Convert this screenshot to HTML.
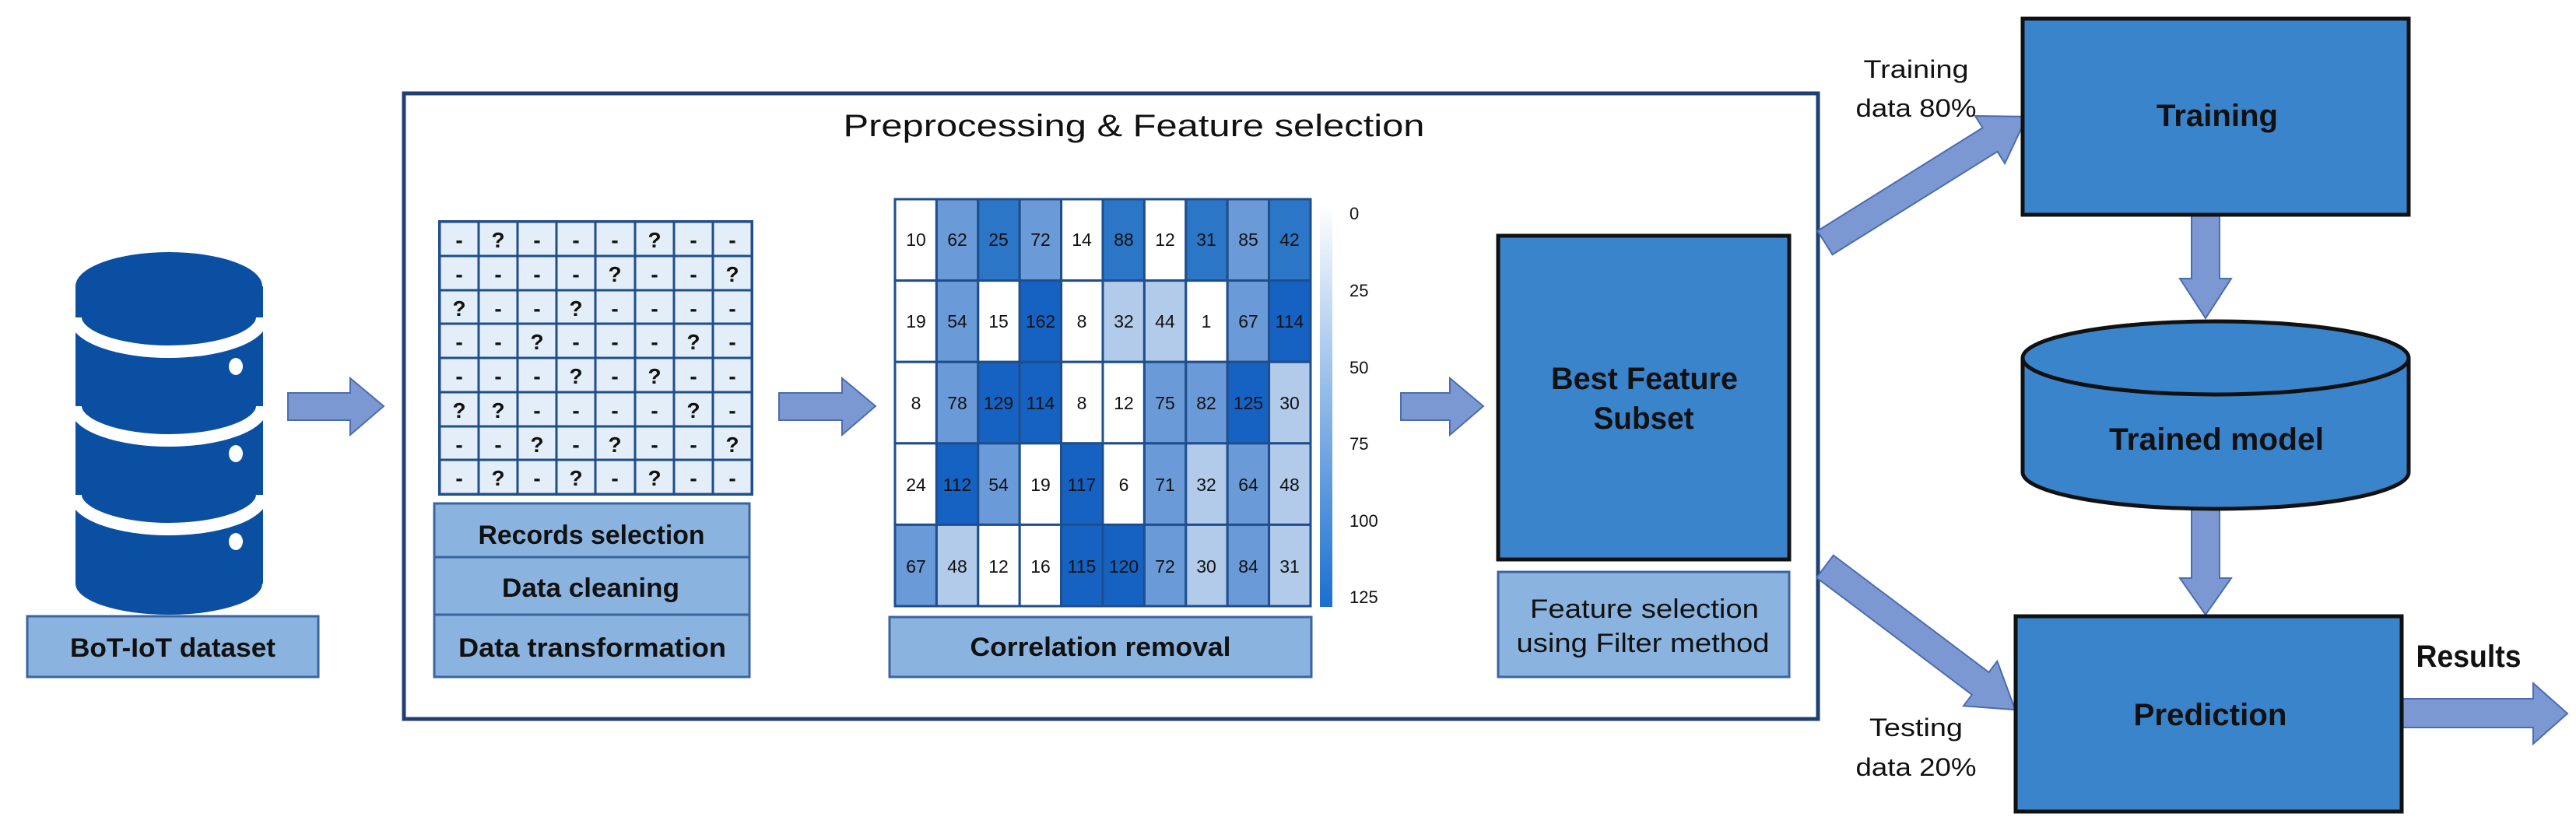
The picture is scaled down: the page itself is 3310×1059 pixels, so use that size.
<!DOCTYPE html>
<html><head><meta charset="utf-8"><style>html,body{margin:0;padding:0;background:#fff}svg{display:block}</style></head>
<body>
<svg width="3310" height="1059" viewBox="0 0 3310 1059" xmlns="http://www.w3.org/2000/svg" font-family="Liberation Sans, sans-serif">
<defs>
<g id="arr"><polygon points="0,-17 -0,-17 0,-17" /></g>
</defs>
<rect width="3310" height="1059" fill="#fff"/>

<!-- Database -->
<g fill="#0b4fa3">
  <rect x="97" y="368" width="241" height="382" rx="0"/>
  <ellipse cx="217" cy="750" rx="120" ry="40"/>
  <ellipse cx="217" cy="368" rx="120" ry="44"/>
</g>
<g fill="none" stroke="#fff" stroke-width="16">
  <path d="M97,408 A120,44 0 0 0 337,408"/>
  <path d="M97,522 A120,44 0 0 0 337,522"/>
  <path d="M97,636 A120,44 0 0 0 337,636"/>
</g>
<g fill="#fff"><ellipse cx="303" cy="471" rx="9" ry="11"/><ellipse cx="303" cy="583" rx="9" ry="11"/><ellipse cx="303" cy="696" rx="9" ry="11"/></g>

<!-- label style -->
<g fill="#8ab4df" stroke="#3a64a0" stroke-width="3">
  <rect x="35" y="792" width="374" height="78"/>
  <rect x="558" y="647" width="405" height="69"/>
  <rect x="558" y="716" width="405" height="74"/>
  <rect x="558" y="790" width="405" height="80"/>
  <rect x="1143" y="793" width="542" height="77"/>
  <rect x="1925" y="735" width="374" height="135"/>
</g>
<g font-weight="bold" font-size="34" fill="#111" text-anchor="middle">
  <text x="222" y="844" textLength="264" lengthAdjust="spacingAndGlyphs">BoT-IoT dataset</text>
  <text x="760" y="699" textLength="291" lengthAdjust="spacingAndGlyphs">Records selection</text>
  <text x="759" y="767" textLength="228" lengthAdjust="spacingAndGlyphs">Data cleaning</text>
  <text x="761" y="844" textLength="344" lengthAdjust="spacingAndGlyphs">Data transformation</text>
  <text x="1414" y="843" textLength="335" lengthAdjust="spacingAndGlyphs">Correlation removal</text>
  <text x="2113" y="794" font-weight="normal" textLength="294" lengthAdjust="spacingAndGlyphs">Feature selection</text>
  <text x="2111" y="838" font-weight="normal" textLength="325" lengthAdjust="spacingAndGlyphs">using Filter method</text>
</g>

<!-- Big box -->
<rect x="519" y="120" width="1817" height="804" fill="none" stroke="#1f3f73" stroke-width="5"/>
<text x="1457" y="175" font-size="40" text-anchor="middle" fill="#111" textLength="747" lengthAdjust="spacingAndGlyphs">Preprocessing &amp; Feature selection</text>

<!-- Grid -->
<g id="grid">
<rect x="565" y="285" width="401" height="350" fill="#fff" stroke="#1f4e8c" stroke-width="4"/>
</g>
<g font-size="28" font-weight="bold" text-anchor="middle" fill="#111">
<!-- cells generated -->
</g>
<g id="cells"></g>

<!-- Arrows horizontal -->
<g fill="#7b98d2" stroke="#4a6cb0" stroke-width="2">
  <polygon points="370,505 450,505 450,486 493,522 450,559 450,540 370,540"/>
  <polygon points="1001,505 1082,505 1082,486 1125,522 1082,559 1082,540 1001,540"/>
  <polygon points="1800,505 1863,505 1863,486 1906,522 1863,559 1863,540 1800,540"/>
  <polygon points="3086,898 3255,898 3255,878 3299,917 3255,956 3255,935 3086,935"/>
  <polygon points="2816,276 2852,276 2852,358 2867,358 2834,409 2801,358 2816,358"/>
  <polygon points="2816,654 2852,654 2852,743 2867,743 2834,790 2801,743 2816,743"/>
  <g transform="translate(2345,312) rotate(-32)"><polygon points="0,-18 250,-18 250,-36 306,0 250,36 250,18 0,18"/></g>
  <g transform="translate(2345,728) rotate(37)"><polygon points="0,-18 250,-18 250,-36 306,0 250,36 250,18 0,18"/></g>
</g>

<!-- Best feature box -->
<rect x="1925" y="303" width="374" height="416" fill="#3a84cc" stroke="#111" stroke-width="5"/>
<g font-weight="bold" font-size="40" fill="#111" text-anchor="middle">
  <text x="2113" y="500" textLength="240" lengthAdjust="spacingAndGlyphs">Best Feature</text>
  <text x="2112" y="551" textLength="129" lengthAdjust="spacingAndGlyphs">Subset</text>
</g>

<!-- Training -->
<rect x="2599" y="24" width="496" height="252" fill="#3a84cc" stroke="#111" stroke-width="5"/>
<text x="2849" y="162" font-weight="bold" font-size="40" text-anchor="middle" fill="#111" textLength="156" lengthAdjust="spacingAndGlyphs">Training</text>
<!-- Trained model cylinder -->
<path d="M2599,460 L2599,607 A248,47 0 0 0 3095,607 L3095,460" fill="#3a84cc" stroke="#111" stroke-width="5"/>
<ellipse cx="2847" cy="460" rx="248" ry="47" fill="#3a84cc" stroke="#111" stroke-width="5"/>
<text x="2848" y="578" font-weight="bold" font-size="40" text-anchor="middle" fill="#111" textLength="276" lengthAdjust="spacingAndGlyphs">Trained model</text>
<!-- Prediction -->
<rect x="2590" y="792" width="496" height="251" fill="#3a84cc" stroke="#111" stroke-width="5"/>
<text x="2840" y="932" font-weight="bold" font-size="40" text-anchor="middle" fill="#111" textLength="197" lengthAdjust="spacingAndGlyphs">Prediction</text>
<text x="3172" y="857" font-weight="bold" font-size="40" text-anchor="middle" fill="#111" textLength="135" lengthAdjust="spacingAndGlyphs">Results</text>

<g font-size="32" fill="#111" text-anchor="middle">
  <text x="2462" y="100" textLength="135" lengthAdjust="spacingAndGlyphs">Training</text>
  <text x="2462" y="150" textLength="155" lengthAdjust="spacingAndGlyphs">data 80%</text>
  <text x="2462" y="946" textLength="120" lengthAdjust="spacingAndGlyphs">Testing</text>
  <text x="2462" y="997" textLength="155" lengthAdjust="spacingAndGlyphs">data 20%</text>
</g>

<!-- Heatmap -->
<g stroke="#1f4e8c" stroke-width="3">
<!-- row1 -->
<rect x="1150" y="256" width="53.4" height="104.6" fill="#fff"/><rect x="1203.4" y="256" width="53.4" height="104.6" fill="#6a9bd8"/><rect x="1256.8" y="256" width="53.4" height="104.6" fill="#2b76c6"/><rect x="1310.2" y="256" width="53.4" height="104.6" fill="#6a9bd8"/><rect x="1363.6" y="256" width="53.4" height="104.6" fill="#fff"/><rect x="1417" y="256" width="53.4" height="104.6" fill="#2b76c6"/><rect x="1470.4" y="256" width="53.4" height="104.6" fill="#fff"/><rect x="1523.8" y="256" width="53.4" height="104.6" fill="#2b76c6"/><rect x="1577.2" y="256" width="53.4" height="104.6" fill="#6a9bd8"/><rect x="1630.6" y="256" width="53.4" height="104.6" fill="#2b76c6"/>
<!-- row2 -->
<rect x="1150" y="360.6" width="53.4" height="104.6" fill="#fff"/><rect x="1203.4" y="360.6" width="53.4" height="104.6" fill="#6a9bd8"/><rect x="1256.8" y="360.6" width="53.4" height="104.6" fill="#fff"/><rect x="1310.2" y="360.6" width="53.4" height="104.6" fill="#1662c2"/><rect x="1363.6" y="360.6" width="53.4" height="104.6" fill="#fff"/><rect x="1417" y="360.6" width="53.4" height="104.6" fill="#b2cbea"/><rect x="1470.4" y="360.6" width="53.4" height="104.6" fill="#b2cbea"/><rect x="1523.8" y="360.6" width="53.4" height="104.6" fill="#fff"/><rect x="1577.2" y="360.6" width="53.4" height="104.6" fill="#6a9bd8"/><rect x="1630.6" y="360.6" width="53.4" height="104.6" fill="#1662c2"/>
<!-- row3 -->
<rect x="1150" y="465.2" width="53.4" height="104.6" fill="#fff"/><rect x="1203.4" y="465.2" width="53.4" height="104.6" fill="#6a9bd8"/><rect x="1256.8" y="465.2" width="53.4" height="104.6" fill="#1662c2"/><rect x="1310.2" y="465.2" width="53.4" height="104.6" fill="#1662c2"/><rect x="1363.6" y="465.2" width="53.4" height="104.6" fill="#fff"/><rect x="1417" y="465.2" width="53.4" height="104.6" fill="#fff"/><rect x="1470.4" y="465.2" width="53.4" height="104.6" fill="#6a9bd8"/><rect x="1523.8" y="465.2" width="53.4" height="104.6" fill="#6a9bd8"/><rect x="1577.2" y="465.2" width="53.4" height="104.6" fill="#1662c2"/><rect x="1630.6" y="465.2" width="53.4" height="104.6" fill="#b2cbea"/>
<!-- row4 -->
<rect x="1150" y="569.8" width="53.4" height="104.6" fill="#fff"/><rect x="1203.4" y="569.8" width="53.4" height="104.6" fill="#1662c2"/><rect x="1256.8" y="569.8" width="53.4" height="104.6" fill="#6a9bd8"/><rect x="1310.2" y="569.8" width="53.4" height="104.6" fill="#fff"/><rect x="1363.6" y="569.8" width="53.4" height="104.6" fill="#1662c2"/><rect x="1417" y="569.8" width="53.4" height="104.6" fill="#fff"/><rect x="1470.4" y="569.8" width="53.4" height="104.6" fill="#6a9bd8"/><rect x="1523.8" y="569.8" width="53.4" height="104.6" fill="#b2cbea"/><rect x="1577.2" y="569.8" width="53.4" height="104.6" fill="#6a9bd8"/><rect x="1630.6" y="569.8" width="53.4" height="104.6" fill="#b2cbea"/>
<!-- row5 -->
<rect x="1150" y="674.4" width="53.4" height="104.6" fill="#6a9bd8"/><rect x="1203.4" y="674.4" width="53.4" height="104.6" fill="#b2cbea"/><rect x="1256.8" y="674.4" width="53.4" height="104.6" fill="#fff"/><rect x="1310.2" y="674.4" width="53.4" height="104.6" fill="#fff"/><rect x="1363.6" y="674.4" width="53.4" height="104.6" fill="#1662c2"/><rect x="1417" y="674.4" width="53.4" height="104.6" fill="#1662c2"/><rect x="1470.4" y="674.4" width="53.4" height="104.6" fill="#6a9bd8"/><rect x="1523.8" y="674.4" width="53.4" height="104.6" fill="#b2cbea"/><rect x="1577.2" y="674.4" width="53.4" height="104.6" fill="#6a9bd8"/><rect x="1630.6" y="674.4" width="53.4" height="104.6" fill="#b2cbea"/>
</g>
<g font-size="23" fill="#111" text-anchor="middle">
<text y="316"><tspan x="1177">10</tspan><tspan x="1230">62</tspan><tspan x="1283">25</tspan><tspan x="1337">72</tspan><tspan x="1390">14</tspan><tspan x="1444">88</tspan><tspan x="1497">12</tspan><tspan x="1550">31</tspan><tspan x="1604">85</tspan><tspan x="1657">42</tspan></text>
<text y="421"><tspan x="1177">19</tspan><tspan x="1230">54</tspan><tspan x="1283">15</tspan><tspan x="1337">162</tspan><tspan x="1390">8</tspan><tspan x="1444">32</tspan><tspan x="1497">44</tspan><tspan x="1550">1</tspan><tspan x="1604">67</tspan><tspan x="1657">114</tspan></text>
<text y="526"><tspan x="1177">8</tspan><tspan x="1230">78</tspan><tspan x="1283">129</tspan><tspan x="1337">114</tspan><tspan x="1390">8</tspan><tspan x="1444">12</tspan><tspan x="1497">75</tspan><tspan x="1550">82</tspan><tspan x="1604">125</tspan><tspan x="1657">30</tspan></text>
<text y="631"><tspan x="1177">24</tspan><tspan x="1230">112</tspan><tspan x="1283">54</tspan><tspan x="1337">19</tspan><tspan x="1390">117</tspan><tspan x="1444">6</tspan><tspan x="1497">71</tspan><tspan x="1550">32</tspan><tspan x="1604">64</tspan><tspan x="1657">48</tspan></text>
<text y="736"><tspan x="1177">67</tspan><tspan x="1230">48</tspan><tspan x="1283">12</tspan><tspan x="1337">16</tspan><tspan x="1390">115</tspan><tspan x="1444">120</tspan><tspan x="1497">72</tspan><tspan x="1550">30</tspan><tspan x="1604">84</tspan><tspan x="1657">31</tspan></text>
</g>
<!-- colorbar -->
<defs><linearGradient id="cb" x1="0" y1="0" x2="0" y2="1"><stop offset="0" stop-color="#fff"/><stop offset="1" stop-color="#1a6fd0"/></linearGradient></defs>
<rect x="1696" y="262" width="16" height="518" fill="url(#cb)"/>
<g font-size="22" fill="#111"><text x="1734" y="282">0</text><text x="1734" y="381">25</text><text x="1734" y="480">50</text><text x="1734" y="578">75</text><text x="1734" y="677">100</text><text x="1734" y="775">125</text></g>

<!-- records grid 8x8 -->
<g stroke="#1f4e8c" stroke-width="3">
<rect x="565" y="285" width="401" height="350" fill="#e4eef8"/>
<path d="M615,285V635M665,285V635M715,285V635M765,285V635M816,285V635M866,285V635M916,285V635M565,329H966M565,373H966M565,416H966M565,460H966M565,504H966M565,548H966M565,591H966" fill="none"/>
</g>
<g font-size="28" font-weight="bold" fill="#111" text-anchor="middle">
<text y="318"><tspan x="590">-</tspan><tspan x="640">?</tspan><tspan x="690">-</tspan><tspan x="740">-</tspan><tspan x="790">-</tspan><tspan x="841">?</tspan><tspan x="891">-</tspan><tspan x="941">-</tspan></text>
<text y="362"><tspan x="590">-</tspan><tspan x="640">-</tspan><tspan x="690">-</tspan><tspan x="740">-</tspan><tspan x="790">?</tspan><tspan x="841">-</tspan><tspan x="891">-</tspan><tspan x="941">?</tspan></text>
<text y="406"><tspan x="590">?</tspan><tspan x="640">-</tspan><tspan x="690">-</tspan><tspan x="740">?</tspan><tspan x="790">-</tspan><tspan x="841">-</tspan><tspan x="891">-</tspan><tspan x="941">-</tspan></text>
<text y="449"><tspan x="590">-</tspan><tspan x="640">-</tspan><tspan x="690">?</tspan><tspan x="740">-</tspan><tspan x="790">-</tspan><tspan x="841">-</tspan><tspan x="891">?</tspan><tspan x="941">-</tspan></text>
<text y="493"><tspan x="590">-</tspan><tspan x="640">-</tspan><tspan x="690">-</tspan><tspan x="740">?</tspan><tspan x="790">-</tspan><tspan x="841">?</tspan><tspan x="891">-</tspan><tspan x="941">-</tspan></text>
<text y="537"><tspan x="590">?</tspan><tspan x="640">?</tspan><tspan x="690">-</tspan><tspan x="740">-</tspan><tspan x="790">-</tspan><tspan x="841">-</tspan><tspan x="891">?</tspan><tspan x="941">-</tspan></text>
<text y="581"><tspan x="590">-</tspan><tspan x="640">-</tspan><tspan x="690">?</tspan><tspan x="740">-</tspan><tspan x="790">?</tspan><tspan x="841">-</tspan><tspan x="891">-</tspan><tspan x="941">?</tspan></text>
<text y="624"><tspan x="590">-</tspan><tspan x="640">?</tspan><tspan x="690">-</tspan><tspan x="740">?</tspan><tspan x="790">-</tspan><tspan x="841">?</tspan><tspan x="891">-</tspan><tspan x="941">-</tspan></text>
</g>
</svg>
</body></html>
